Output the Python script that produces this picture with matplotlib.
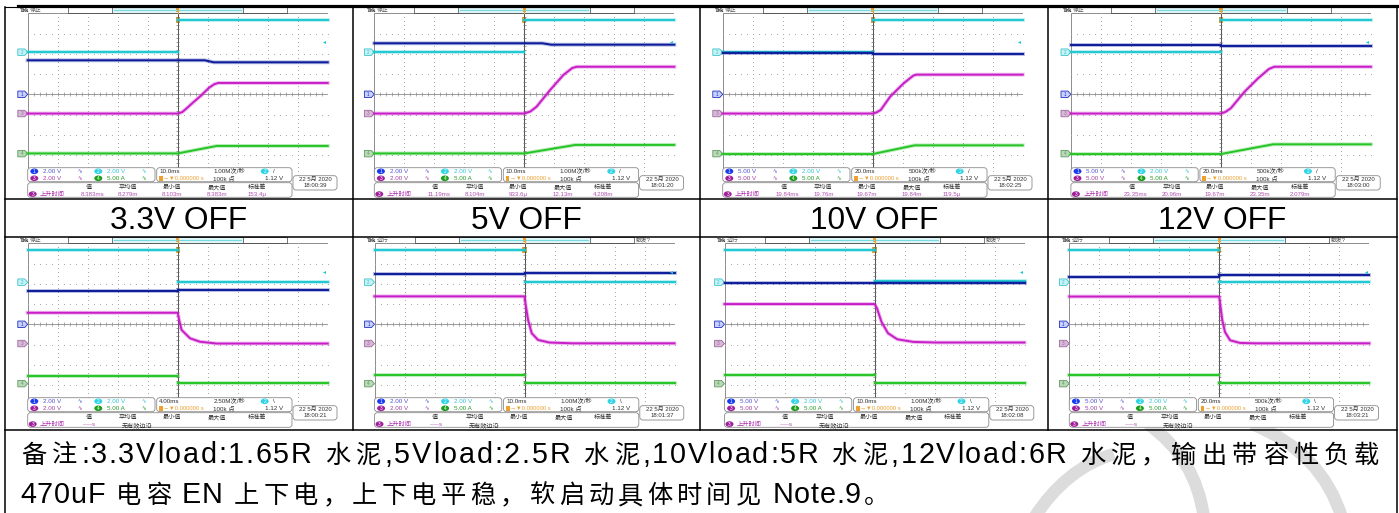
import numpy as np
import matplotlib
matplotlib.use("Agg")
import matplotlib.pyplot as plt
from matplotlib.patches import FancyBboxPatch, Rectangle, Polygon, PathPatch, Ellipse
from matplotlib.path import Path
from matplotlib.font_manager import FontProperties, findfont
from matplotlib.ft2font import FT2Font

plt.rcParams['font.family'] = ['Liberation Sans', 'Noto Sans CJK SC', 'DejaVu Sans']

# ------------------------------------------------------------------ data
LABELS = ["3.3V OFF", "5V OFF", "10V OFF", "12V OFF"]
NOTE_LINE1 = "备注:3.3Vload:1.65R 水泥,5Vload:2.5R 水泥,10Vload:5R 水泥,12Vload:6R 水泥，输出带容性负载"
NOTE_LINE2 = "470uF 电容 EN 上下电，上下电平稳，软启动具体时间见 Note.9。"

# trace levels in screen divisions (centre = 0), one value per panel
TRIG_T = 5.0
CYAN_PRE = [2.10, 2.10, 2.10, 2.10, 3.65, 3.65, 3.65, 3.65]
CYAN_POST = [3.65, 3.65, 3.65, 3.65, 2.08, 2.10, 2.16, 2.09]
BLUE_PRE = [1.68, 2.52, 2.03, 2.45, 1.62, 2.47, 2.02, 2.34]
BLUE_POST = [1.58, 2.45, 2.00, 2.38, 1.69, 2.55, 2.06, 2.42]
BLUE_STEP_T = [5.9, 5.6, 5.0, 5.0, 5.0, 5.0, 5.0, 5.0]
GREEN_PRE = [-2.92, -2.92, -2.95, -2.95, -2.55, -2.50, -2.50, -2.49]
GREEN_POST = [-2.55, -2.50, -2.52, -2.47, -2.90, -2.88, -2.88, -2.88]
GREEN_END_T = [6.3, 6.7, 6.4, 6.74, 5.0, 5.0, 5.0, 5.0]
MAG_T = [
    [0, 5.0, 5.15, 5.3, 5.5, 5.75, 6.05, 6.22, 6.35, 10],
    [0, 5.0, 5.2, 5.41, 5.86, 6.3, 6.6, 6.75, 10],
    [0, 5.0, 5.12, 5.27, 5.58, 6.03, 6.35, 6.45, 10],
    [0, 5.0, 5.15, 5.33, 5.79, 6.24, 6.6, 6.78, 10],
    [0, 5.0, 5.05, 5.13, 5.41, 5.74, 6.3, 10],
    [0, 5.0, 5.04, 5.12, 5.24, 5.45, 5.83, 6.6, 10],
    [0, 5.0, 5.08, 5.23, 5.45, 5.76, 6.3, 7.05, 10],
    [0, 5.0, 5.04, 5.1, 5.19, 5.36, 5.69, 6.2, 10],
]
MAG_V = [
    [-0.95, -0.95, -0.88, -0.69, -0.42, -0.10, 0.33, 0.50, 0.56, 0.56],
    [-0.95, -0.95, -0.85, -0.61, 0.21, 0.95, 1.30, 1.36, 1.36],
    [-0.95, -0.95, -0.90, -0.77, -0.12, 0.54, 0.92, 0.97, 0.97],
    [-0.95, -0.95, -0.87, -0.69, 0.13, 0.79, 1.25, 1.36, 1.36],
    [0.57, 0.57, 0.20, -0.28, -0.69, -0.86, -0.95, -0.95],
    [1.38, 1.38, 0.95, 0.21, -0.44, -0.77, -0.90, -0.94, -0.94],
    [1.00, 1.00, 0.80, 0.13, -0.44, -0.74, -0.87, -0.90, -0.90],
    [1.37, 1.37, 0.86, 0.20, -0.38, -0.79, -0.92, -0.94, -0.94],
]
CH_MARK_LEVEL = [0.0, 2.08, -0.95, -2.93]     # ch1, ch2, ch3, ch4 reference markers
TRIG_LEVEL = 2.6

STATUS = ["停止", "停止", "停止", "停止", "停止", "运行", "运行", "运行"]
CH1_SCALE = ["2.00 V", "2.00 V", "5.00 V", "5.00 V", "2.00 V", "2.00 V", "5.00 V", "5.00 V"]
CH3_SCALE = CH1_SCALE
CH2_SCALE = ["2.00 V"] * 8
CH4_SCALE = ["5.00 A"] * 8
TIMEBASE = ["10.0ms", "10.0ms", "20.0ms", "20.0ms", "4.00ms", "10.0ms", "10.0ms", "20.0ms"]
SAMPLE_RATE = ["1.00M次/秒", "1.00M次/秒", "500k次/秒", "500k次/秒",
               "2.50M次/秒", "1.00M次/秒", "1.00M次/秒", "500k次/秒"]
SLOPE = ["/", "/", "/", "/", "\\", "\\", "\\", "\\"]
TIMES = ["18:00:39", "18:01:20", "18:02:25", "18:03:00",
         "18:00:21", "18:01:37", "18:02:08", "18:03:21"]
MEAS_HEAD = ["值", "平均值", "最小值", "最大值", "标准差"]
MEAS_VALS = [
    ["8.383ms", "8.279m", "8.103m", "8.383m", "153.4μ"],
    ["11.19ms", "8.104m", "933.6μ", "12.13m", "4.208m"],
    ["19.84ms", "19.76m", "19.67m", "19.84m", "119.5μ"],
    ["23.35ms", "20.96m", "19.67m", "23.35m", "2.079m"],
    None, None, None, None,
]

# ------------------------------------------------------------------ layout
W, H = 1399, 513
GW, GH = 300.0, 162.0
TOP_GL = [27.7, 374.3, 722.7, 1070.9]
BOT_GL = [27.7, 374.5, 724.5, 1069.3]
GT = [13.3, 243.3]
COLX = [5, 352.7, 700, 1047.5, 1396.5]

C_CYAN, C_BLUE, C_MAG, C_GREEN = '#1ec8d2', '#0c1c9c', '#c81ec8', '#26c426'
I_CH = ['#1a3cf0', '#30d4e4', '#a0209c', '#1e9e1e']
T_CH = ['#5050d0', '#30c4d4', '#a040a0', '#2a9a2a']
ORANGE = '#eea030'

fig = plt.figure(figsize=(W / 100, H / 100), dpi=100)
fig.patch.set_facecolor('white')
ov = fig.add_axes([0, 0, 1, 1], zorder=3)
ov.patch.set_alpha(0)
ov.set_xlim(0, W)
ov.set_ylim(H, 0)
ov.axis('off')


def graticule(ax):
    dx = np.arange(0, 10.001, 0.2)
    dy = np.arange(-4, 4.001, 0.2)
    for gx in range(1, 10):
        if gx != 5:
            ax.plot(np.full_like(dy, gx), dy, ls='none', marker='s', ms=0.65, mew=0, color='#a8a8a8')
    for gy in range(-3, 4):
        if gy != 0:
            ax.plot(dx, np.full_like(dx, gy), ls='none', marker='s', ms=0.65, mew=0, color='#a8a8a8')
    ax.axhline(0, color='#8c8c8c', lw=0.6)
    ax.vlines(dx, -0.09, 0.09, color='#8c8c8c', lw=0.5)
    ax.axvline(5, color='#505050', lw=0.7)
    ax.hlines(dy, 4.95, 5.05, color='#707070', lw=0.5)
    ax.add_patch(Rectangle((0, -4), 10, 8, fill=False, ec='#8c8c8c', lw=0.7))


def trace(ax, t, v, color):
    ax.plot(t, v, color=color, lw=2.8, alpha=0.3, clip_on=False, solid_joinstyle='round')
    ax.plot(t, v, color=color, lw=1.4, clip_on=False, solid_joinstyle='round')


def ch_marker(ax, level, num, fc, ec):
    ax.add_patch(Polygon([[-0.33, level - 0.16], [-0.1, level - 0.16], [0, level],
                          [-0.1, level + 0.16], [-0.33, level + 0.16]],
                         closed=True, fc=fc, ec=ec, lw=0.6, clip_on=False))
    ax.text(-0.2, level, num, fontsize=3.3, ha='center', va='center', color=ec, clip_on=False)


def rbox(x, y, w, h):
    ov.add_patch(FancyBboxPatch((x, y), w, h, boxstyle="round,pad=0,rounding_size=3",
                                fc='white', ec='#8a8a8a', lw=0.6, zorder=2))


def icon(x, y, num, color):
    ov.add_patch(Ellipse((x, y), 8, 5.6, fc=color, ec='none', zorder=3))
    ov.text(x, y, num, fontsize=3.4, color='white', ha='center', va='center', zorder=4)


def txt(x, y, s, color='#303030', fs=4.5, ha='left', **kw):
    ov.text(x, y, s, fontsize=fs, color=color, ha=ha, va='center', zorder=4, **kw)


for i in range(8):
    row, col = divmod(i, 4)
    gl = (TOP_GL if row == 0 else BOT_GL)[col]
    gt = GT[row]
    ax = fig.add_axes([gl / W, 1 - (gt + GH) / H, GW / W, GH / H], zorder=2)
    ax.set_xlim(0, 10)
    ax.set_ylim(-4, 4)
    ax.axis('off')
    graticule(ax)

    # step channels drawn as two separate levels (no vertical edge)
    trace(ax, [0, TRIG_T, np.nan, TRIG_T, 10],
          [CYAN_PRE[i], CYAN_PRE[i], np.nan, CYAN_POST[i], CYAN_POST[i]], C_CYAN)
    bs = BLUE_STEP_T[i]
    if bs > TRIG_T:
        trace(ax, [0, bs, bs + 0.3, 10], [BLUE_PRE[i], BLUE_PRE[i], BLUE_POST[i], BLUE_POST[i]], C_BLUE)
    else:
        trace(ax, [0, bs, np.nan, bs, 10], [BLUE_PRE[i], BLUE_PRE[i], np.nan, BLUE_POST[i], BLUE_POST[i]], C_BLUE)
    trace(ax, MAG_T[i], MAG_V[i], C_MAG)
    if GREEN_END_T[i] > TRIG_T:
        trace(ax, [0, TRIG_T, GREEN_END_T[i], 10],
              [GREEN_PRE[i], GREEN_PRE[i], GREEN_POST[i], GREEN_POST[i]], C_GREEN)
    else:
        trace(ax, [0, TRIG_T, np.nan, TRIG_T, 10],
              [GREEN_PRE[i], GREEN_PRE[i], np.nan, GREEN_POST[i], GREEN_POST[i]], C_GREEN)

    ch_marker(ax, CH_MARK_LEVEL[0], '1', '#c8d0ff', '#2030c0')
    ch_marker(ax, CH_MARK_LEVEL[1], '2', '#c4f2f6', '#3cc4cc')
    ch_marker(ax, CH_MARK_LEVEL[2], '3', '#d8b8d8', '#9a6a9a')
    ch_marker(ax, CH_MARK_LEVEL[3], '4', '#b8d8b8', '#609a60')
    ax.plot([9.88], [TRIG_LEVEL], marker='<', ms=2.2, color=C_CYAN, mew=0, clip_on=False)
    ax.add_patch(Rectangle((TRIG_T - 0.07, 3.5), 0.14, 0.3, fc=ORANGE, ec='none', clip_on=False))

    # top status bar
    tx = gl + TRIG_T * GW / 10
    ov.text(gl - 7.7, gt - 3.3, "Tek", fontsize=4.3, fontweight='bold', family='Liberation Serif',
            va='center', ha='left', color='#202020')
    txt(gl + 2, gt - 3.3, STATUS[i], color='#606060', fs=4.2)
    ov.add_patch(Rectangle((gl + 40, gt - 6), 219.6, 5.4, fill=False, ec='#404040', lw=0.5))
    ov.add_patch(Rectangle((gl + 84, gt - 6), 131.6, 5.4, fc='#dff6f8', ec='#404040', lw=0.5))
    ov.plot([gl + 86, gl + 213.6], [gt - 3.3, gt - 3.3], color='#7ad8de', lw=0.8)
    ov.plot([tx, tx], [gt - 6.5, gt - 0.5], color=ORANGE, lw=0.9)
    ov.add_patch(Rectangle((tx - 1.6, gt - 5), 3.2, 3.5, fc=ORANGE, ec='none'))
    if row == 1 and i >= 5:
        txt(gl + 261.5, gt - 3.3, "触发?", color='#505050', fs=4.2)

    # readouts
    y1 = gt + 154.4
    rbox(gl, y1, 127.3, 14)
    rbox(gl + 129, y1, 135.3, 14)
    rbox(gl + 265.3, gt + 162.4, 44, 14.3)
    rbox(gl, gt + 169.4, 264.3, 14.6)
    r1, r2 = gt + 158.0, gt + 165.0
    icon(gl + 6.6, r1, '1', I_CH[0]); txt(gl + 15.5, r1, CH1_SCALE[i], T_CH[0])
    txt(gl + 50, r1, "∿", T_CH[0], fs=4)
    icon(gl + 70.6, r1, '2', I_CH[1]); txt(gl + 79.5, r1, CH2_SCALE[i], T_CH[1])
    txt(gl + 113.5, r1, "∿", T_CH[1], fs=4)
    icon(gl + 6.6, r2, '3', I_CH[2]); txt(gl + 15.5, r2, CH3_SCALE[i], T_CH[2])
    txt(gl + 50, r2, "∿", T_CH[2], fs=4)
    icon(gl + 70.6, r2, '4', I_CH[3]); txt(gl + 79.5, r2, CH4_SCALE[i], T_CH[3])
    txt(gl + 113.5, r2, "∿", T_CH[3], fs=4)
    txt(gl + 131.6, r1, TIMEBASE[i])
    txt(gl + 185.6, r1, SAMPLE_RATE[i])
    icon(gl + 237, r1, '2', I_CH[1]); txt(gl + 245, r1, SLOPE[i])
    ov.add_patch(Rectangle((gl + 131.5, r2 - 2.3), 3.6, 4.6, fc=ORANGE, ec='none', zorder=3))
    txt(gl + 135.5, r2, "→▼0.000000 s", ORANGE, fs=4.2)
    txt(gl + 185.6, r2, "100k 点")
    txt(gl + 237.3, r2, "1.12 V")
    txt(gl + 287.6, gt + 166.0, "22 5月 2020", ha='center', fs=4.3)
    txt(gl + 287.6, gt + 172.6, TIMES[i], ha='center', fs=4.3)
    hx = [60.7, 100.7, 144, 189, 229]
    for hxx, hs in zip(hx, MEAS_HEAD):
        txt(gl + hxx, gt + 174.3, hs, ha='center', fs=4.4)
    mr = gt + 180.8
    icon(gl + 5, mr, '3', I_CH[2])
    txt(gl + 12.3, mr, "上升时间", '#b030b0', fs=4.5)
    if MEAS_VALS[i] is not None:
        for hxx, v in zip(hx, MEAS_VALS[i]):
            txt(gl + hxx + (4 if hxx == 60.7 else 0), mr, v, '#b050b0', ha='center', fs=4.4)
    else:
        txt(gl + 62, mr, "-----s", '#b050b0', ha='center', fs=4.4)
        txt(gl + 94, mr + 0.8, "无有效边沿", '#303030', fs=4.4)

# ------------------------------------------------------------------ table
LW = 1.1
ov.plot([18, COLX[-1]], [5.5, 5.5], color='black', lw=2.3, zorder=5)
ov.plot([COLX[0], 18], [7, 7], color='black', lw=0.8, zorder=5)
for x in COLX[1:-1]:
    ov.plot([x, x], [5.5, 430], color='black', lw=LW, zorder=5)
for x in (COLX[0], COLX[-1]):
    ov.plot([x, x], [6.5, 520], color='black', lw=LW, zorder=5)
for y in (198.5, 236.7, 430):
    ov.plot([COLX[0], COLX[-1]], [y, y], color='black', lw=LW, zorder=5)
for c, lab in enumerate(LABELS):
    ov.text((COLX[c] + COLX[c + 1]) / 2, 229.4, lab, fontsize=22.8, family='Liberation Sans',
            ha='center', va='baseline', color='black', zorder=5)

# ------------------------------------------------------------------ watermark
for (p0, p1, p2) in [((1034, 518), (1066, 468), (1114, 454)),
                     ((1148, 424), (1196, 458), (1204, 518)),
                     ((1252, 424), (1322, 452), (1342, 518))]:
    ov.add_patch(PathPatch(Path([p0, p1, p2], [Path.MOVETO, Path.CURVE3, Path.CURVE3]),
                           fill=False, ec='#dcdcdc', lw=9, capstyle='butt', zorder=1))

# ------------------------------------------------------------------ note text
NOTE_PX = 28.7
lat_font = FT2Font(findfont(FontProperties(family='Liberation Sans')))
lat_font.set_size(NOTE_PX * 0.72, 100)


def is_cjk(ch):
    return ord(ch) >= 0x2E80


def adv(ch):
    if is_cjk(ch):
        return NOTE_PX
    return lat_font.load_char(ord(ch)).linearHoriAdvance / 65536.0


x0 = 20.0
total1 = sum(adv(c) for c in NOTE_LINE1)
extra1 = max(0.0, (1381.0 - x0 - total1) / (len(NOTE_LINE1) - 1))


def draw_line(s, yb, extra):
    x = x0
    for ch in s:
        a = adv(ch)
        if is_cjk(ch):
            ov.text(x + a / 2, yb, ch, fontsize=NOTE_PX * 0.72 * 0.88, family='Noto Sans CJK SC',
                    ha='center', va='baseline', color='black', zorder=6)
        elif ch != ' ':
            ov.text(x, yb, ch, fontsize=NOTE_PX * 0.72, family='Liberation Sans',
                    ha='left', va='baseline', color='black', zorder=6)
        x += a + extra


draw_line(NOTE_LINE1, 462.7, extra1)
draw_line(NOTE_LINE2, 503.3, 0.8)

fig.savefig("out.png", dpi=100, facecolor='white')
